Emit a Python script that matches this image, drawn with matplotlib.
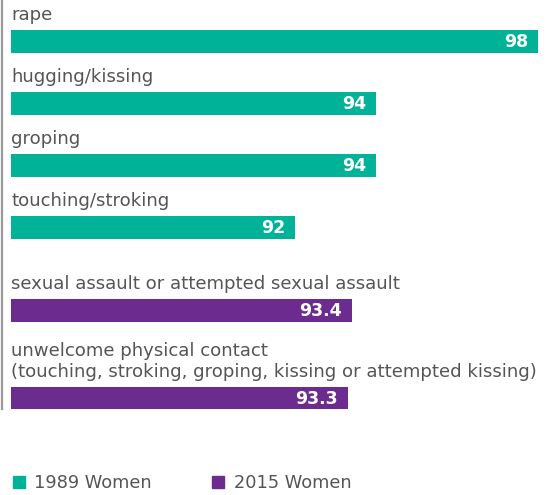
import matplotlib
matplotlib.use("Agg")
import matplotlib.pyplot as plt
from matplotlib.lines import Line2D

# data
labels_1989 = ["rape", "hugging/kissing", "groping", "touching/stroking"]
values_1989 = [98, 94, 94, 92]
labels_2015 = ["sexual assault or attempted sexual assault",
               "unwelcome physical contact\n(touching, stroking, groping, kissing or attempted kissing)"]
values_2015 = [93.4, 93.3]
legend_names = ["1989 Women", "2015 Women"]

teal = "#00B398"
purple = "#6C2C8F"
text_col = "#555555"
label_font = "DejaVu Sans"

W, H = 547, 495
fig = plt.figure(figsize=(W / 100, H / 100), dpi=100)
ax = fig.add_axes([0, 0, 1, 1])

# axis starts at 85, about 40.5 px per unit
base = 85
ppu = 40.5
ax.set_xlim(base - 11.5 / ppu, base + (W - 11.5) / ppu)
ax.set_ylim(H, 0)  # vertical layout in pixels, top down
ax.axis("off")

# bar rows (pixel centres)
rows_1989 = [41.5, 103.5, 165.5, 227.5]
rows_2015 = [310.5, 398]
bar_h = 22.5

def draw(labels, values, rows, color):
    ax.barh(rows, [v - base for v in values], left=base, height=bar_h, color=color)
    for lab, v, y in zip(labels, values, rows):
        top = y - bar_h / 2
        # baseline of the last line sits ~10px above the bar
        ax.text(base, top - 10, lab, ha="left", va="baseline",
                fontsize=13.1, color=text_col, family=label_font, linespacing=1.18)
        ax.text(v - 9.5 / ppu, y + 0.5, f"{v:g}", ha="right", va="center",
                fontsize=12.5, fontweight="bold", color="white")

draw(labels_1989, values_1989, rows_1989, teal)
draw(labels_2015, values_2015, rows_2015, purple)

# grey line on the left
ax.plot([0.004, 0.004], [0, 409], transform=ax.get_yaxis_transform(),
        color="#9a9a9a", lw=1.6, clip_on=False)

handles = [Line2D([], [], marker="s", linestyle="none", markersize=8.8, color=c)
           for c in (teal, purple)]
fig.legend(handles, legend_names, loc="lower left", bbox_to_anchor=(0.004, -0.016),
           ncol=2, frameon=False, handlelength=0.7, handletextpad=0.5,
           columnspacing=3.4, borderaxespad=0.2,
           prop={"family": label_font, "size": 12.8}, labelcolor=text_col)

fig.savefig("out.png", dpi=100)
